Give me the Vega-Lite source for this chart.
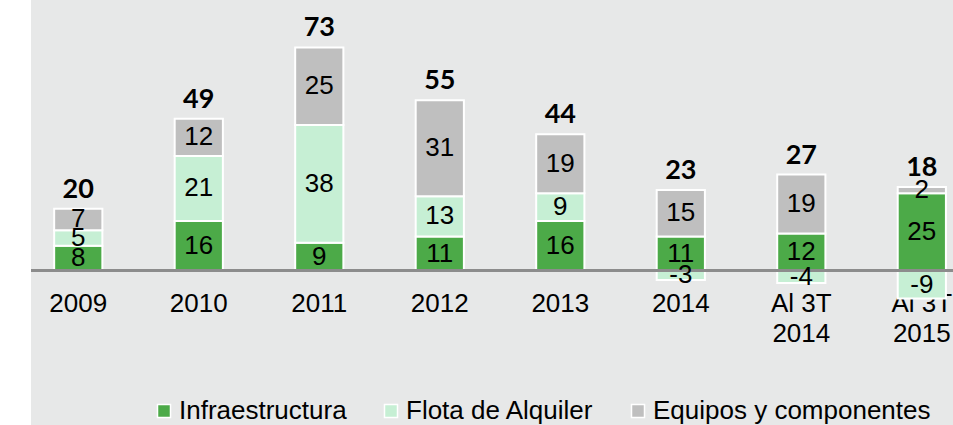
{
  "$schema": "https://vega.github.io/schema/vega-lite/v6.json",
  "width": 922,
  "height": 425,
  "autosize": {"type": "none"},
  "padding": {"left": 31, "top": 0, "right": 0, "bottom": 0},
  "background": "white",
  "config": {"view": {"fill": "#e7e8e8", "stroke": null}, "font": "Liberation Sans"},
  "data": {"values": [
    {"cat": "2009", "serie": "Infraestructura", "ord": 1, "value": 8, "total": 20},
    {"cat": "2009", "serie": "Flota de Alquiler", "ord": 2, "value": 5, "total": 20},
    {"cat": "2009", "serie": "Equipos y componentes", "ord": 3, "value": 7, "total": 20},
    {"cat": "2010", "serie": "Infraestructura", "ord": 1, "value": 16, "total": 49},
    {"cat": "2010", "serie": "Flota de Alquiler", "ord": 2, "value": 21, "total": 49},
    {"cat": "2010", "serie": "Equipos y componentes", "ord": 3, "value": 12, "total": 49},
    {"cat": "2011", "serie": "Infraestructura", "ord": 1, "value": 9, "total": 73},
    {"cat": "2011", "serie": "Flota de Alquiler", "ord": 2, "value": 38, "total": 73},
    {"cat": "2011", "serie": "Equipos y componentes", "ord": 3, "value": 25, "total": 73},
    {"cat": "2012", "serie": "Infraestructura", "ord": 1, "value": 11, "total": 55},
    {"cat": "2012", "serie": "Flota de Alquiler", "ord": 2, "value": 13, "total": 55},
    {"cat": "2012", "serie": "Equipos y componentes", "ord": 3, "value": 31, "total": 55},
    {"cat": "2013", "serie": "Infraestructura", "ord": 1, "value": 16, "total": 44},
    {"cat": "2013", "serie": "Flota de Alquiler", "ord": 2, "value": 9, "total": 44},
    {"cat": "2013", "serie": "Equipos y componentes", "ord": 3, "value": 19, "total": 44},
    {"cat": "2014", "serie": "Infraestructura", "ord": 1, "value": 11, "total": 23},
    {"cat": "2014", "serie": "Flota de Alquiler", "ord": 2, "value": -3, "total": 23},
    {"cat": "2014", "serie": "Equipos y componentes", "ord": 3, "value": 15, "total": 23},
    {"cat": "Al 3T 2014", "serie": "Infraestructura", "ord": 1, "value": 12, "total": 27},
    {"cat": "Al 3T 2014", "serie": "Flota de Alquiler", "ord": 2, "value": -4, "total": 27},
    {"cat": "Al 3T 2014", "serie": "Equipos y componentes", "ord": 3, "value": 19, "total": 27},
    {"cat": "Al 3T 2015", "serie": "Infraestructura", "ord": 1, "value": 25, "total": 18},
    {"cat": "Al 3T 2015", "serie": "Flota de Alquiler", "ord": 2, "value": -9, "total": 18},
    {"cat": "Al 3T 2015", "serie": "Equipos y componentes", "ord": 3, "value": 2, "total": 18}
  ]},
  "layer": [
    {
      "mark": {"type": "bar", "stroke": "white", "strokeWidth": 2},
      "encoding": {
        "x": {
          "field": "cat", "type": "nominal",
          "sort": ["2009", "2010", "2011", "2012", "2013", "2014", "Al 3T 2014", "Al 3T 2015"],
          "scale": {"paddingInner": 0.6, "paddingOuter": 0.1255, "align": 0.766},
          "axis": {
            "orient": "bottom", "offset": -154.3, "domain": false, "ticks": false, "title": null,
            "labelAngle": 0, "labelFontSize": 26, "labelColor": "black", "labelPadding": 20,
            "labelLineHeight": 30, "labelBound": false, "labelOverlap": false, "labelFlush": false,
            "labelFont": "Liberation Sans",
            "labelExpr": "substring(datum.label, 0, 5) == 'Al 3T' ? ['Al 3T', substring(datum.label, 6)] : datum.label"
          }
        },
        "y": {"field": "value", "type": "quantitative", "stack": "zero", "scale": {"domain": [-49.8, 87.3], "nice": false, "zero": false}, "axis": null},
        "color": {
          "field": "serie", "type": "nominal",
          "scale": {
            "domain": ["Infraestructura", "Flota de Alquiler", "Equipos y componentes"],
            "range": ["#4caa48", "#c6efd4", "#bfbfbf"]
          },
          "legend": {
            "orient": "none", "legendX": 120, "legendY": 398, "direction": "horizontal",
            "title": null, "labelFontSize": 26, "labelColor": "black", "labelFont": "Liberation Sans",
            "symbolType": "square", "symbolSize": 169, "symbolStrokeColor": "white", "symbolStrokeWidth": 1.5,
            "labelOffset": 2, "columnPadding": 31, "padding": 0, "labelLimit": 400
          }
        },
        "order": {"field": "ord", "type": "quantitative"}
      }
    },
    {
      "mark": {"type": "rule", "color": "#8c8c8c", "strokeWidth": 2},
      "encoding": {"y": {"datum": 0, "type": "quantitative"}}
    },
    {
      "transform": [
        {"stack": "value", "groupby": ["cat"], "sort": [{"field": "ord"}], "as": ["v0", "v1"]},
        {"calculate": "(datum.v0 + datum.v1) / 2", "as": "mid"}
      ],
      "mark": {"type": "text", "fontSize": 26, "color": "black", "font": "Liberation Sans"},
      "encoding": {
        "x": {"field": "cat", "type": "nominal", "sort": ["2009", "2010", "2011", "2012", "2013", "2014", "Al 3T 2014", "Al 3T 2015"]},
        "y": {"field": "mid", "type": "quantitative"},
        "text": {"field": "value", "type": "nominal"}
      }
    },
    {
      "transform": [
        {"filter": "datum.value > 0"},
        {"aggregate": [{"op": "sum", "field": "value", "as": "top"}, {"op": "max", "field": "total", "as": "total"}], "groupby": ["cat"]}
      ],
      "mark": {"type": "text", "font": "Lato", "fontWeight": "bold", "fontSize": 27, "baseline": "alphabetic", "dy": -11, "color": "black"},
      "encoding": {
        "x": {"field": "cat", "type": "nominal", "sort": ["2009", "2010", "2011", "2012", "2013", "2014", "Al 3T 2014", "Al 3T 2015"]},
        "y": {"field": "top", "type": "quantitative"},
        "text": {"field": "total", "type": "nominal"}
      }
    }
  ]
}
